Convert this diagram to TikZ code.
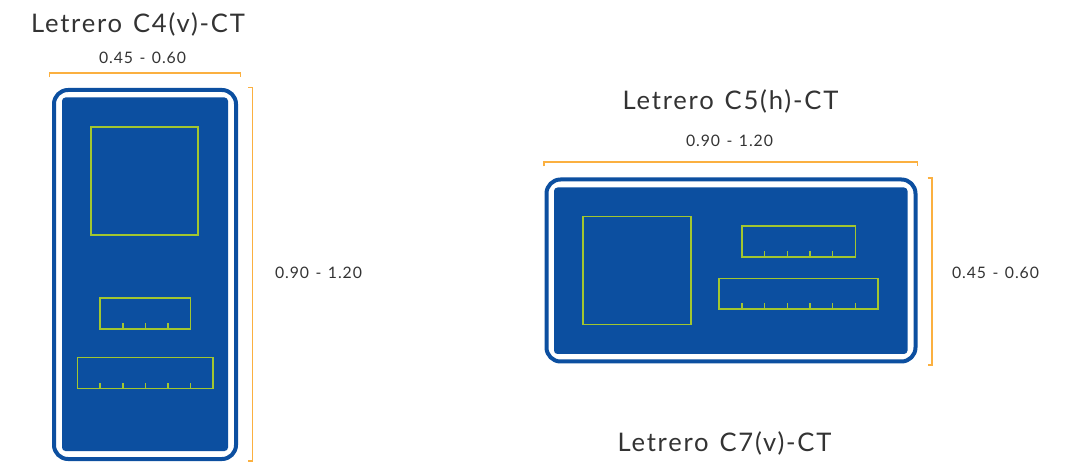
\documentclass[tikz,border=0pt]{standalone}
\usepackage{fontspec}
\setmainfont{Lato}
\newfontfamily\spacedtitle[LetterSpace=7,WordSpace=1.3]{Lato}
\newfontfamily\spaceddim[LetterSpace=6,WordSpace=1.3]{Lato}
\definecolor{signblue}{HTML}{0C4FA0}
\definecolor{lime}{HTML}{A2C62F}
\definecolor{bracket}{HTML}{FBB040}
\definecolor{ink}{HTML}{333333}
\tikzset{
  title/.style={text=ink,font=\spacedtitle\fontsize{25.6}{28}\selectfont,inner sep=0pt,anchor=center},
  dim/.style={text=ink,font=\spaceddim\fontsize{15.8}{18}\selectfont,inner sep=0pt,anchor=center},
  border/.style={draw=signblue,line width=4pt,fill=white,rounded corners=14pt},
  panel/.style={fill=signblue,rounded corners=3.5pt},
  field/.style={draw=lime,line width=1.2pt},
  tick/.style={draw=lime,line width=1.2pt},
  brk/.style={draw=bracket,line width=1.3pt}
}
\begin{document}
\begin{tikzpicture}[x=1pt,y=-1pt]
\useasboundingbox (0,0) rectangle (1074,470);
% left sign
\draw[border] (54,90) rectangle (236,459);
\fill[panel] (62,97.5) rectangle (228,451);
\draw[field] (91,127) rectangle (198,235);
\draw[field] (100,298) rectangle (190.5,329);
\foreach \x in {100,123,145.5,168,190.5} \draw[tick] (\x,329) -- (\x,323.5);
\draw[field] (77.5,357.5) rectangle (213,388.5);
\foreach \x in {77.5,100,123,145.5,168,190.5,213} \draw[tick] (\x,388.5) -- (\x,383);
\draw[brk] (49.5,77.5) -- (49.5,73) -- (240.5,73) -- (240.5,77.5);
\draw[brk] (248,87.5) -- (252.5,87.5) -- (252.5,461) -- (248,461);
\node[title] (t1) at (138,24) {Letrero C4(v)-CT};
\node[dim] (d1) at (142.5,58) {0.45 - 0.60};
\node[dim] (d2) at (318.5,273) {0.90 - 1.20};
% right sign
\draw[border] (546.5,179.5) rectangle (915.5,361.5);
\fill[panel] (554,187.5) rectangle (907.5,354);
\draw[field] (583,216.5) rectangle (691,324.5);
\draw[field] (742,226) rectangle (855.5,257);
\foreach \x in {742,764.5,787.5,810,832.5,855.5} \draw[tick] (\x,257) -- (\x,251.5);
\draw[field] (719,278.5) rectangle (878,309);
\foreach \x in {719,742,764.5,787.5,810,832.5,855.5,878} \draw[tick] (\x,309) -- (\x,303.5);
\draw[brk] (544,166.5) -- (544,162) -- (917.5,162) -- (917.5,166.5);
\draw[brk] (927.5,178) -- (932,178) -- (932,365) -- (927.5,365);
\node[title] (t2) at (730.5,101) {Letrero C5(h)-CT};
\node[dim] (d3) at (729.5,141) {0.90 - 1.20};
\node[dim] (d4) at (995.5,273) {0.45 - 0.60};
\node[title] (t3) at (724.5,443) {Letrero C7(v)-CT};
\end{tikzpicture}
\end{document}
